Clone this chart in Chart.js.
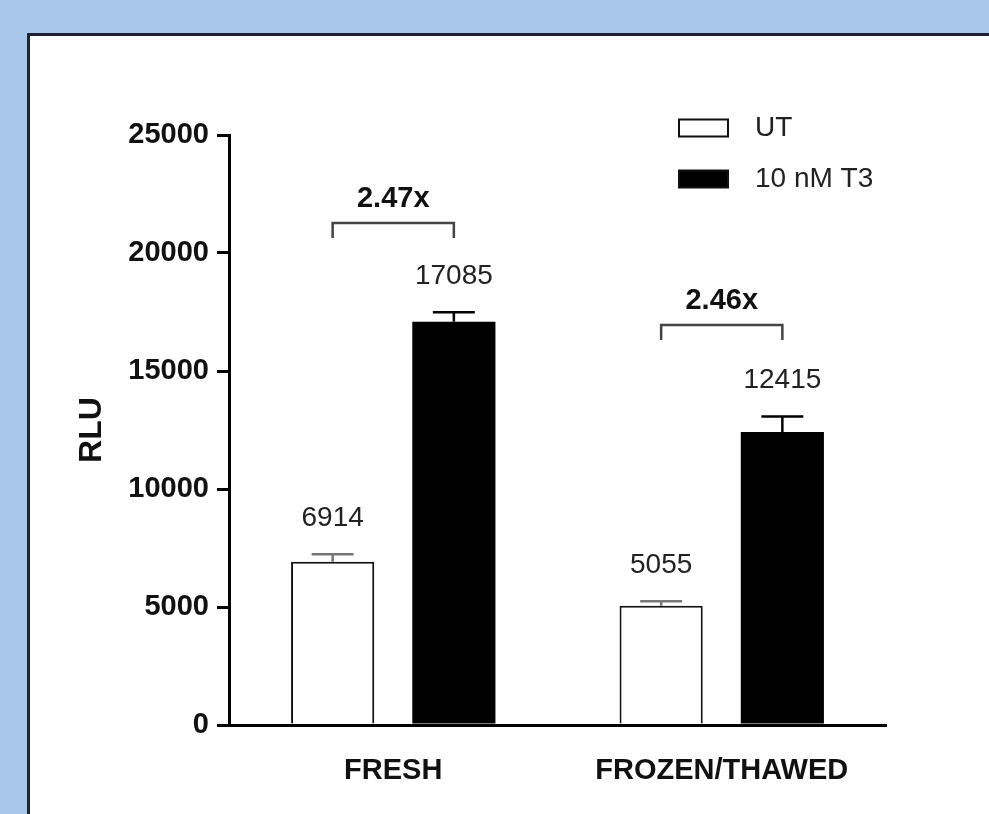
<!DOCTYPE html>
<html>
<head>
<meta charset="utf-8">
<script src="https://cdn.jsdelivr.net/npm/chart.js@4.4.1/dist/chart.umd.min.js"></script>
<style>
    html, body { margin: 0; padding: 0; overflow: hidden; background: #a9c7ea; }
    #marco { position: absolute; left: 27px; top: 33px; width: 1000px; height: 900px; border: 3px solid #1e2330; background: #fff; }
    #grafico { position: absolute; left: 0; top: 0; }
</style>
</head>
<body>
<div id="marco"></div>
<canvas id="grafico" width="989" height="814"></canvas>
<script>
let categorias = ['FRESH', 'FROZEN/THAWED']
let series = ['UT', '10 nM T3']
let valores_ut = [6914, 5055]
let valores_t3 = [17085, 12415]
let error_ut = [320, 190]   // SEM
let error_t3 = [400, 660]
let nivel_corchete = [21270, 16950]
let etiquetas_fold = ['2.47x', '2.46x']
let ticks_y = [0, 5000, 10000, 15000, 20000, 25000]

let fuente = "'Liberation Sans', Arial, sans-serif"
Chart.defaults.font.family = fuente

// barras de error, numeros, corchetes y leyenda
const extras = {
    id: 'extras',
    afterDatasetsDraw(chart) {
        const ctx = chart.ctx
        const y = chart.scales.y
        const grupos = [
            { meta: chart.getDatasetMeta(0), valores: valores_ut, errores: error_ut, color: '#777' },
            { meta: chart.getDatasetMeta(1), valores: valores_t3, errores: error_t3, color: '#000' },
        ]
        ctx.save()
        grupos.forEach(g => {
            g.meta.data.forEach((barra, j) => {
                let y_barra = y.getPixelForValue(g.valores[j])
                let y_error = y.getPixelForValue(g.valores[j] + g.errores[j])
                ctx.strokeStyle = g.color
                ctx.lineWidth = 2.5
                ctx.beginPath()
                ctx.moveTo(barra.x, y_barra)
                ctx.lineTo(barra.x, y_error)
                ctx.moveTo(barra.x - 21, y_error)
                ctx.lineTo(barra.x + 21, y_error)
                ctx.stroke()
                // valor encima
                ctx.fillStyle = '#222'
                ctx.font = '28px ' + fuente
                ctx.textAlign = 'center'
                ctx.textBaseline = 'middle'
                ctx.fillText(String(g.valores[j]), barra.x, y_error - 36)
            })
        })
        // corchetes de fold change
        categorias.forEach((c, j) => {
            let x1 = grupos[0].meta.data[j].x
            let x2 = grupos[1].meta.data[j].x
            let yc = y.getPixelForValue(nivel_corchete[j])
            ctx.strokeStyle = '#444'
            ctx.lineWidth = 2.5
            ctx.beginPath()
            ctx.moveTo(x1, yc + 15)
            ctx.lineTo(x1, yc)
            ctx.lineTo(x2, yc)
            ctx.lineTo(x2, yc + 15)
            ctx.stroke()
            ctx.fillStyle = '#111'
            ctx.font = 'bold 29px ' + fuente
            ctx.textAlign = 'center'
            ctx.textBaseline = 'middle'
            ctx.fillText(etiquetas_fold[j], (x1 + x2) / 2, yc - 24)
        })
        // leyenda
        let caja_x = 679
        let filas_y = [128, 179]
        series.forEach((nombre, i) => {
            const ds = chart.data.datasets[i]
            ctx.fillStyle = ds.backgroundColor
            ctx.fillRect(caja_x, filas_y[i] - 8.5, 49, 17)
            ctx.strokeStyle = '#111'
            ctx.lineWidth = 2
            ctx.strokeRect(caja_x, filas_y[i] - 8.5, 49, 17)
            ctx.fillStyle = '#222'
            ctx.font = '28px ' + fuente
            ctx.textAlign = 'left'
            ctx.textBaseline = 'middle'
            ctx.fillText(nombre, 755, filas_y[i])
        })
        ctx.restore()
    }
}

var configuracion = {
    type: 'bar',
    data: {
        labels: categorias,
        datasets: [
            {
                label: series[0],
                data: valores_ut,
                backgroundColor: '#ffffff',
                borderColor: '#111',
                borderWidth: 2,
                borderSkipped: 'bottom'
            },
            {
                label: series[1],
                data: valores_t3,
                backgroundColor: '#000000',
                borderColor: '#000000',
                borderWidth: 0
            },
        ]
    },
    options: {
        responsive: false,
        animation: false,
        barPercentage: 0.686,
        categoryPercentage: 0.738,
        layout: { padding: { top: 135, right: 103, left: 0, bottom: 0 } },
        plugins: {
            legend: { display: false },
            tooltip: { enabled: false }
        },
        scales: {
            x: {
                afterFit: s => { s.height = 89 },
                border: { display: true, color: '#000', width: 3 },
                grid: { display: false, drawTicks: false },
                ticks: { color: '#111', font: { size: 29, weight: 'bold' }, padding: 29 }
            },
            y: {
                min: 0,
                max: 25000,
                afterBuildTicks: s => { s.ticks = ticks_y.map(v => ({ value: v })) },
                afterFit: s => { s.width = 229 },
                border: { display: true, color: '#000', width: 3 },
                grid: { display: true, drawOnChartArea: false, drawTicks: true, tickLength: 12, color: '#000', lineWidth: 3 },
                ticks: { color: '#111', font: { size: 29, weight: 'bold' }, padding: 8, callback: v => String(v) },
                title: {
                    display: true,
                    text: 'RLU',
                    color: '#111',
                    font: { size: 32, weight: 'bold' },
                    padding: { top: 73, bottom: 0 }
                }
            }
        }
    },
    plugins: [extras]
}

var ctx = document.getElementById('grafico').getContext('2d')
var grafico = new Chart(ctx, configuracion)
</script>
</body>
</html>
